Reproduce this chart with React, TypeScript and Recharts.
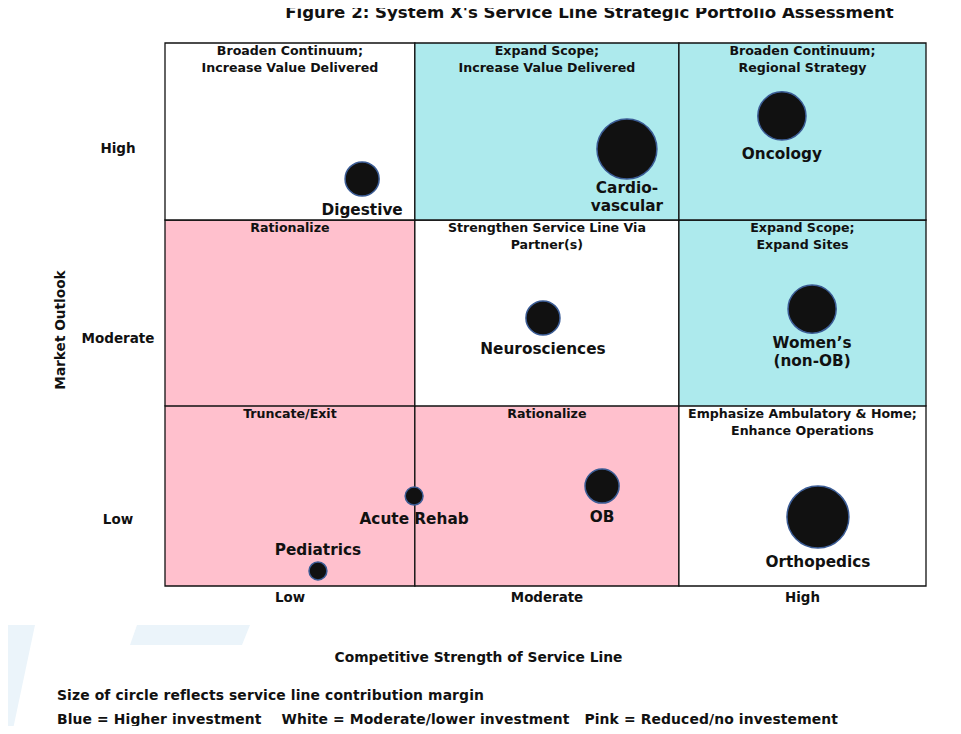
import React from "react";
import {
  ReferenceArea,
  Scatter,
  ScatterChart,
  XAxis,
  YAxis,
  ZAxis,
} from "recharts";

// service lines, positioned by competitive strength (x) and market outlook (y), 0..3 scale
const serviceLines = [
  "Digestive",
  "Cardio-\nvascular",
  "Oncology",
  "Neurosciences",
  "Women’s\n(non-OB)",
  "Acute Rehab",
  "OB",
  "Orthopedics",
  "Pediatrics",
];
const competitiveStrength = [0.777, 1.821, 2.432, 1.49, 2.551, 0.982, 1.723, 2.574, 0.603];
const marketOutlook = [2.249, 2.414, 2.597, 1.481, 1.53, 0.497, 0.552, 0.381, 0.083];
// contribution margin drives circle area
const contributionMargin = [2.9, 9.0, 5.8, 2.9, 5.8, 0.8, 2.9, 9.6, 0.8];

const levelLabels = ["Low", "Moderate", "High"];
const strengthBands = [0, 0.985, 2.026, 3];
const outlookBands = [0, 0.995, 2.022, 3];
const strengthTicks = [0.493, 1.506, 2.513];
const outlookTicks = [0.37, 1.37, 2.42];

// rows from low outlook to high outlook, columns from low strength to high
const cellInvestment = [
  ["pink", "pink", "white"],
  ["pink", "white", "blue"],
  ["white", "blue", "blue"],
];
const cellStrategy = [
  ["Truncate/Exit", "Rationalize", "Emphasize Ambulatory & Home;\nEnhance Operations"],
  ["Rationalize", "Strengthen Service Line Via\nPartner(s)", "Expand Scope;\nExpand Sites"],
  [
    "Broaden Continuum;\nIncrease Value Delivered",
    "Expand Scope;\nIncrease Value Delivered",
    "Broaden Continuum;\nRegional Strategy",
  ],
];

const labelAbove = ["Pediatrics"];

const colors: Record<string, string> = {
  blue: "#ADEAED",
  white: "#FFFFFF",
  pink: "#FFC0CD",
};
const font = "'DejaVu Sans', Verdana, sans-serif";

const data = serviceLines.map((name, i) => ({
  name,
  strength: competitiveStrength[i],
  outlook: marketOutlook[i],
  margin: contributionMargin[i],
}));

function Bubble(props: any) {
  const { cx, cy, payload } = props;
  const r = props.width ? props.width / 2 : Math.sqrt(props.size / Math.PI);
  const lines: string[] = payload.name.split("\n");
  const above = labelAbove.includes(payload.name);
  const gap = lines.length > 1 ? 9 : 14;
  const startY = above ? cy - r - 12 - (lines.length - 1) * 18 : cy + r + gap;
  return (
    <g>
      <circle cx={cx} cy={cy} r={r} fill="#111111" stroke="#3B5C95" strokeWidth={1.5} />
      {lines.map((line, i) => (
        <text
          key={i}
          x={cx}
          y={startY + i * 18}
          dy="0.35em"
          textAnchor="middle"
          fontFamily={font}
          fontWeight="bold"
          fontSize={15.3}
          fill="#111"
        >
          {line}
        </text>
      ))}
    </g>
  );
}

function cellLabel(text: string) {
  return (props: any) => {
    const vb = props.viewBox;
    const lines = text.split("\n");
    return (
      <g>
        {lines.map((line, i) => (
          <text
            key={i}
            x={vb.x + vb.width / 2}
            y={vb.y + 8 + i * 17}
            dy="0.35em"
            textAnchor="middle"
            fontFamily={font}
            fontWeight="bold"
            fontSize={12.6}
            fill="#111"
          >
            {line}
          </text>
        ))}
      </g>
    );
  };
}

function XTick(props: any) {
  const { x, y, index } = props;
  return (
    <text x={x} y={y + 11} dy="0.35em" textAnchor="middle" fontFamily={font} fontWeight="bold" fontSize={13.4} fill="#111">
      {levelLabels[index]}
    </text>
  );
}

function YTick(props: any) {
  const { x, y, index } = props;
  return (
    <text x={x - 47} y={y} dy="0.35em" textAnchor="middle" fontFamily={font} fontWeight="bold" fontSize={13.5} fill="#111">
      {levelLabels[index]}
    </text>
  );
}

function Title(props: any) {
  // sits above the grid, shifted towards the right
  const vb = props.viewBox;
  return (
    <text
      x={vb.x + vb.width / 2 + 44}
      y={vb.y - 31}
      dy="0.35em"
      textAnchor="middle"
      fontFamily={font}
      fontWeight="bold"
      fontSize={16.6}
      fill="#111"
    >
      Figure 2: System X's Service Line Strategic Portfolio Assessment
    </text>
  );
}

function App() {
  return (
    <div style={{ position: "relative", width: 961, height: 734, margin: -8 }}>
      <svg width={961} height={734} style={{ position: "absolute", left: 0, top: 0 }}>
        <polygon points="0,625 35,625 12,734 0,734" fill="#EBF4FA" />
        <polygon points="137,625 250,625 242,645 130,645" fill="#EBF4FA" />
      </svg>
      <ScatterChart
        width={961}
        height={734}
        margin={{ top: 43, right: 35, bottom: 118, left: 65 }}
        style={{ position: "absolute", left: 0, top: 0 }}
      >
        <XAxis
          type="number"
          dataKey="strength"
          domain={[0, 3]}
          ticks={strengthTicks}
          tick={<XTick />}
          tickSize={0}
          tickMargin={0}
          axisLine={false}
          tickLine={false}
          height={30}
          label={{
            content: (p: any) => (
              <text
                x={p.viewBox.x + p.viewBox.width / 2 - 67}
                y={p.viewBox.y + 71}
                dy="0.35em"
                textAnchor="middle"
                fontFamily={font}
                fontWeight="bold"
                fontSize={13.8}
                fill="#111"
              >
                Competitive Strength of Service Line
              </text>
            ),
          }}
        />
        <YAxis
          type="number"
          dataKey="outlook"
          domain={[0, 3]}
          ticks={outlookTicks}
          tick={<YTick />}
          tickSize={0}
          tickMargin={0}
          axisLine={false}
          tickLine={false}
          width={100}
          label={{
            content: (p: any) => (
              <text
                x={0}
                y={0}
                dy="0.35em"
                textAnchor="middle"
                transform={`translate(${p.viewBox.x - 5}, 330) rotate(-90)`}
                fontFamily={font}
                fontWeight="bold"
                fontSize={13.7}
                fill="#111"
              >
                Market Outlook
              </text>
            ),
          }}
        />
        <ZAxis type="number" dataKey="margin" domain={[0, 10]} range={[0, 3142]} />
        {cellInvestment.map((row, ri) =>
          row.map((inv, ci) => (
            <ReferenceArea
              key={`${ri}-${ci}`}
              x1={strengthBands[ci]}
              x2={strengthBands[ci + 1]}
              y1={outlookBands[ri]}
              y2={outlookBands[ri + 1]}
              fill={colors[inv]}
              fillOpacity={1}
              stroke="#111"
              strokeWidth={1.3}
              label={{ content: cellLabel(cellStrategy[ri][ci]) }}
            />
          ))
        )}
        <ReferenceArea
          x1={strengthBands[0]}
          x2={strengthBands[3]}
          y1={outlookBands[0]}
          y2={outlookBands[3]}
          fillOpacity={0}
          strokeOpacity={0}
          label={{ content: (p: any) => <Title {...p} /> }}
        />
        <Scatter data={data} shape={<Bubble />} isAnimationActive={false} />
      </ScatterChart>
      <div
        style={{
          position: "absolute",
          left: 57,
          top: 683,
          fontFamily: font,
          fontWeight: "bold",
          fontSize: 13.9,
          lineHeight: "24px",
          letterSpacing: "0.12px",
          color: "#111",
          whiteSpace: "pre",
        }}
      >
        {"Size of circle reflects service line contribution margin\n"}
        {"Blue = Higher investment    White = Moderate/lower investment   Pink = Reduced/no investement"}
      </div>
    </div>
  );
}

export default App;
